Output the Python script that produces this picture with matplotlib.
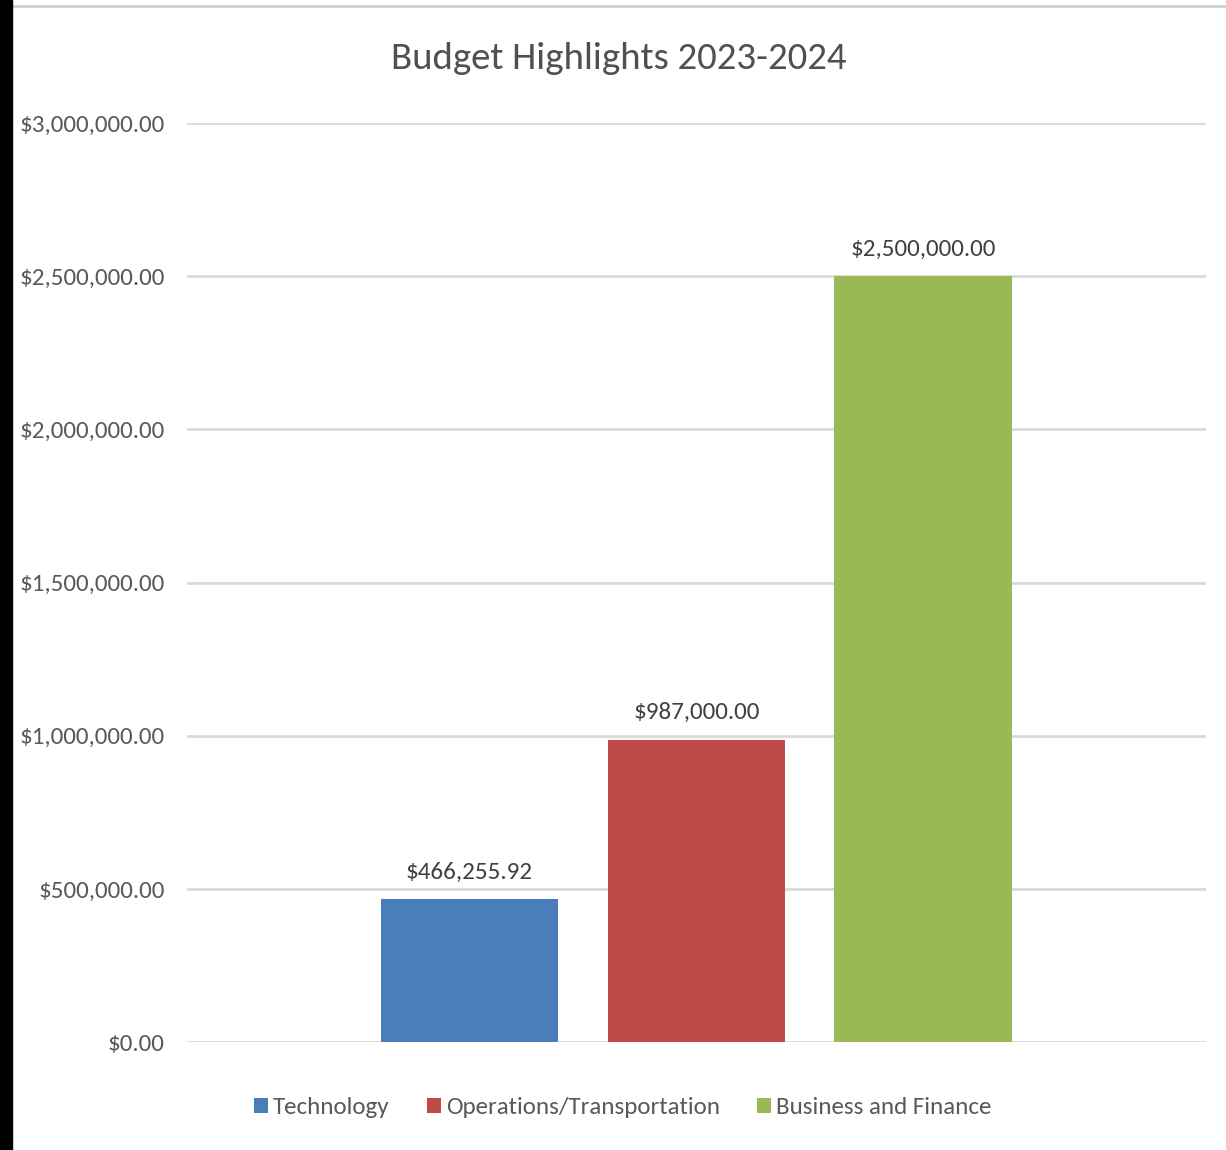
import matplotlib
matplotlib.use("Agg")
import matplotlib.pyplot as plt
from matplotlib.ticker import FuncFormatter
from matplotlib import font_manager

# data
series = ["Technology", "Operations/Transportation", "Business and Finance"]
values = [466255.92, 987000.00, 2500000.00]
colors = ["#4a7ebb", "#be4b48", "#98b954"]
yticks = [0, 500000, 1000000, 1500000, 2000000, 2500000, 3000000]

# calibri-like font if there is one
names = set(f.name for f in font_manager.fontManager.ttflist)
fam = "DejaVu Sans"
for cand in ["Carlito", "Open Sans Condensed", "Roboto Condensed", "PT Sans Narrow",
             "Liberation Sans Narrow", "Arimo"]:
    if cand in names:
        fam = cand
        break
plt.rcParams['font.family'] = [fam, 'DejaVu Sans']

fig = plt.figure(figsize=(12.26, 11.5), dpi=100)
ax = fig.add_axes([0.1525, 0.0939, 0.8312, 0.7991])

pos = list(range(len(series)))
bars = ax.bar(pos, values, width=0.784, color=colors, label=series, zorder=3)

for p, v in zip(pos, values):
    ax.text(p, v + 55000, "${:,.2f}".format(v), ha='center', va='bottom',
            fontsize=18, color='#404040')

ax.set_xlim(-1.245, 3.245)
ax.set_ylim(0, 3000000)
ax.set_yticks(yticks)
ax.yaxis.set_major_formatter(FuncFormatter(lambda v, p: "${:,.2f}".format(v)))
ax.tick_params(axis='y', length=0, labelsize=18, labelcolor='#595959', pad=16)
ax.set_xticks([])
ax.grid(axis='y', color='#d9d9d9', linewidth=2, zorder=0)
for s in ax.spines.values():
    s.set_visible(False)

fig.text(0.505, 0.949, "Budget Highlights 2023-2024", ha='center', va='center',
         fontsize=28, color='#505050')

fig.legend(handles=bars, labels=series, loc='center', bbox_to_anchor=(0.508, 0.037),
           ncol=3, frameon=False, fontsize=18, labelcolor='#595959',
           handlelength=0.55, handleheight=0.55, handletextpad=0.2, columnspacing=1.5)

# left dark strip and top rule like the screenshot
fig.patches.append(plt.Rectangle((0, 0), 12 / 1226, 1, transform=fig.transFigure,
                                 color='black', zorder=10))
fig.lines.append(plt.Line2D([0, 1], [1 - 6 / 1150] * 2, transform=fig.transFigure,
                            color='#d0d0d0', linewidth=2))

plt.savefig('out.png', dpi=100)
